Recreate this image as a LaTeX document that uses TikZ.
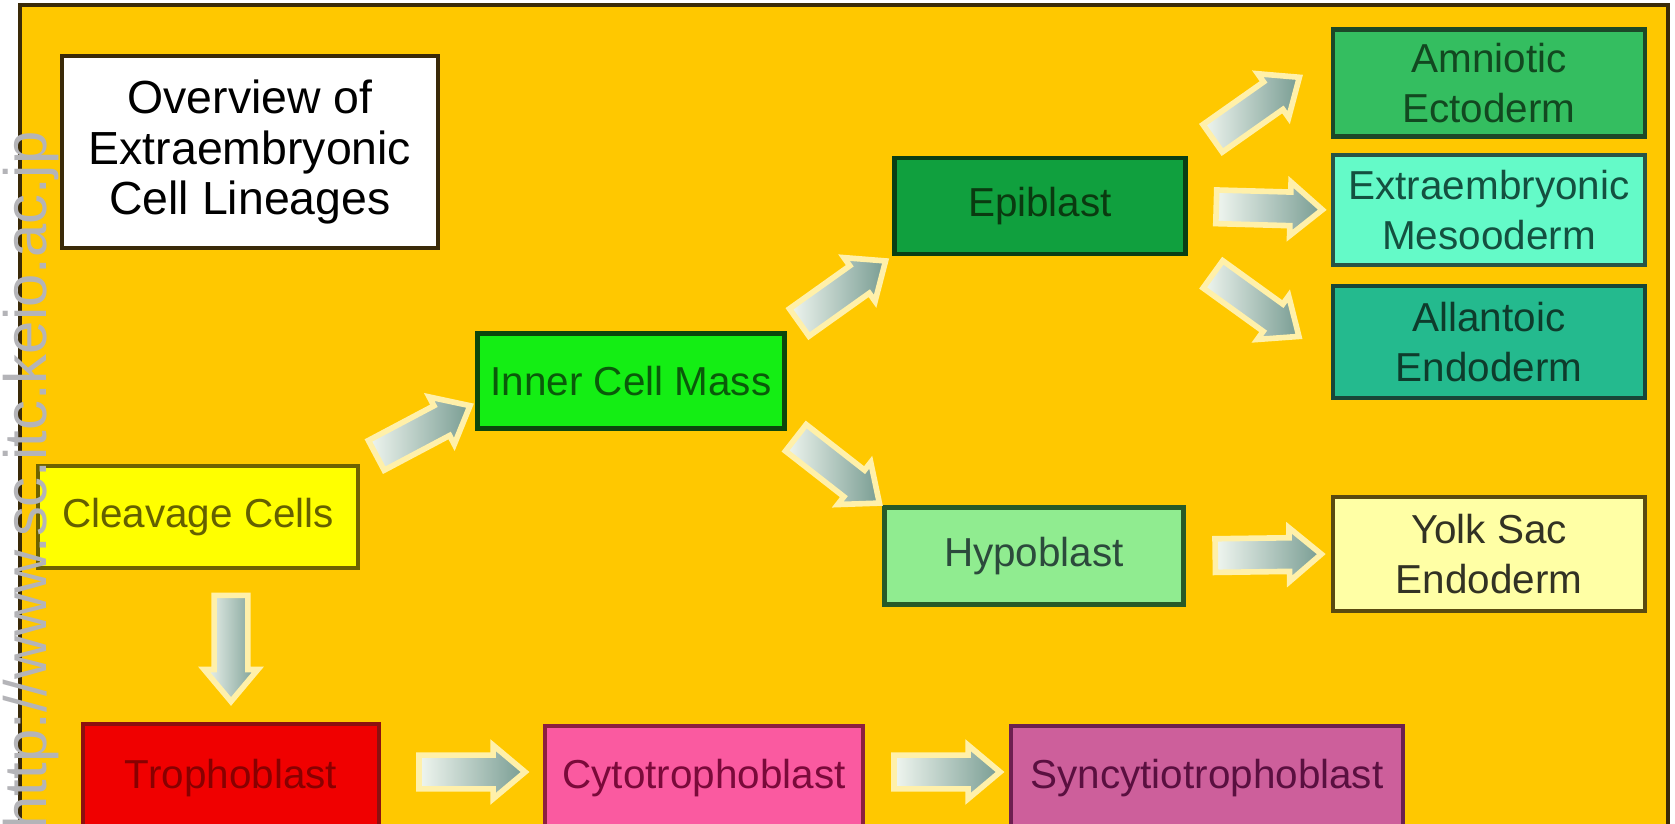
\documentclass[tikz,border=0pt]{standalone}
\usepackage{fontspec}
\setmainfont{Liberation Sans}
\usetikzlibrary{shapes.arrows,calc}

\definecolor{gold}{RGB}{255,200,0}
\definecolor{frameline}{RGB}{58,42,8}
\definecolor{arrowtail}{RGB}{240,246,240}
\definecolor{arrowtip}{RGB}{120,156,146}
\definecolor{glow}{RGB}{255,240,170}
\definecolor{wmgray}{RGB}{180,180,184}

\tikzset{
  cell/.style={draw, line width=1.2pt, align=center, inner sep=0pt,
    minimum width=3.12cm, minimum height=1.1cm,
    font=\fontsize{11.5}{14}\selectfont},
  fatarrow/.style={single arrow, sloped, allow upside down,
    inner xsep=0pt, inner ysep=0.14cm, minimum height=1.06cm,
    single arrow head extend=0.1cm, single arrow tip angle=80,
    draw=glow, line width=1.6pt, left color=arrowtail, right color=arrowtip},
}

\begin{document}
\begin{tikzpicture}[x=0.01cm, y=-0.01cm]
  \useasboundingbox (0,0) rectangle (1675,824);
  \clip (0,0) rectangle (1675,824);
  \fill[white] (0,0) rectangle (1675,824);
  \fill[gold] (20,5) rectangle (1668,840);
  \draw[frameline, line width=1.3pt] (20,840) -- (20,5) -- (1668,5) -- (1668,840);

  \node[cell, fill=white, draw=frameline, minimum width=3.76cm, minimum height=1.92cm,
    font=\fontsize{13.2}{14.3}\selectfont] (title) at (250,152)
    {Overview of\\Extraembryonic\\Cell Lineages};
  \node[cell, fill={rgb,255:red,255;green,255;blue,0}, draw={rgb,255:red,110;green,98;blue,0},
    text={rgb,255:red,100;green,96;blue,0}, minimum width=3.2cm, minimum height=1.02cm] (cc) at (198,517) {Cleavage Cells};
  \node[cell, fill={rgb,255:red,20;green,238;blue,20}, draw={rgb,255:red,12;green,70;blue,12},
    text={rgb,255:red,10;green,90;blue,10}, minimum width=3.07cm, minimum height=0.95cm] (icm) at (631,381) {Inner Cell Mass};
  \node[cell, fill={rgb,255:red,16;green,160;blue,62}, draw={rgb,255:red,10;green,62;blue,20},
    text={rgb,255:red,10;green,58;blue,16}, minimum width=2.91cm, minimum height=0.96cm] (epi) at (1040,206) {Epiblast};
  \node[cell, fill={rgb,255:red,144;green,236;blue,144}, draw={rgb,255:red,40;green,90;blue,40},
    text={rgb,255:red,44;green,74;blue,60}, minimum width=2.99cm, minimum height=0.97cm] (hypo) at (1034,556) {Hypoblast};

  \node[cell, fill={rgb,255:red,52;green,190;blue,96}, draw={rgb,255:red,28;green,72;blue,40},
    text={rgb,255:red,18;green,72;blue,32}, minimum height=1.07cm] (amn) at (1489,83) {Amniotic\\Ectoderm};
  \node[cell, fill={rgb,255:red,100;green,250;blue,200}, draw={rgb,255:red,40;green,84;blue,70},
    text={rgb,255:red,20;green,80;blue,64}] (exm) at (1489,210) {Extraembryonic\\Mesooderm};
  \node[cell, fill={rgb,255:red,36;green,186;blue,142}, draw={rgb,255:red,24;green,70;blue,56},
    text={rgb,255:red,14;green,60;blue,44}, minimum height=1.12cm] (all) at (1489,342) {Allantoic\\Endoderm};
  \node[cell, fill={rgb,255:red,255;green,255;blue,165}, draw={rgb,255:red,90;green,74;blue,16},
    text={rgb,255:red,50;green,50;blue,36}, minimum height=1.14cm] (yolk) at (1489,554) {Yolk Sac\\Endoderm};

  \node[cell, fill={rgb,255:red,240;green,0;blue,0}, draw={rgb,255:red,140;green,16;blue,16},
    text={rgb,255:red,136;green,0;blue,0}, minimum width=2.96cm, minimum height=1.08cm] (tro) at (231,778) {Trophoblast};
  \node[cell, fill={rgb,255:red,250;green,90;blue,160}, draw={rgb,255:red,140;green,32;blue,64},
    text={rgb,255:red,122;green,10;blue,58}, minimum width=3.18cm, minimum height=1.04cm] (cyto) at (704,778) {Cytotrophoblast};
  \node[cell, fill={rgb,255:red,205;green,95;blue,155}, draw={rgb,255:red,108;green,32;blue,80},
    text={rgb,255:red,90;green,16;blue,64}, minimum width=3.92cm, minimum height=1.04cm] (syn) at (1207,778) {Syncytiotrophoblast};

  \path (cc.north east) -- node[fatarrow, pos=0.47] {} (icm.188);
  \path (icm.north east) -- node[fatarrow, pos=0.45] {} (epi.south west);
  \path (icm.south east) -- node[fatarrow, pos=0.45] {} (hypo.north west);
  \path (epi.north east) -- node[fatarrow, pos=0.42] {} ($(amn.west)!0.5!(amn.north west)$);
  \path (epi.east) -- node[fatarrow] {} (exm.west);
  \path (epi.south east) -- node[fatarrow, pos=0.42] {} ($(all.west)!0.3!(all.south west)$);
  \path (hypo.east) -- node[fatarrow] {} (yolk.west);
  \path (tro.north |- cc.south) -- node[fatarrow, pos=0.45] {} (tro.north);
  \path (tro.east) -- node[fatarrow, yshift=0.06cm] {} (cyto.west);
  \path (cyto.east) -- node[fatarrow, yshift=0.06cm] {} (syn.west);

  \node[rotate=90, anchor=base west, text=wmgray, inner sep=0pt,
    font=\fontsize{17}{17}\selectfont] (wm) at (46,830) {http://www.sc.itc.keio.ac.jp};
\end{tikzpicture}
\end{document}
